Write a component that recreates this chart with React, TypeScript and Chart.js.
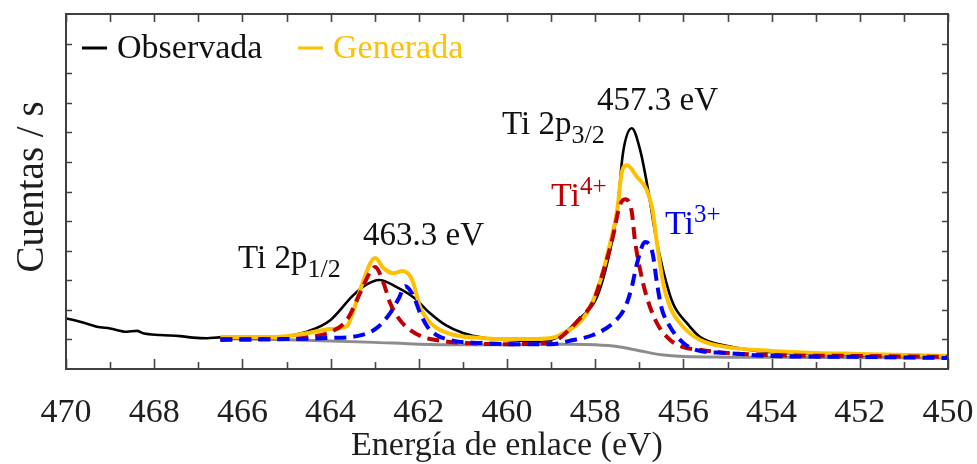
import React, { useEffect, useRef } from "react";
import { Chart, registerables } from "chart.js";

Chart.register(...registerables);

// ---- Data (binding energy in eV, counts in arbitrary units) ----
const obsEnergy = [469.98, 469.68, 469.3, 469.0, 468.62, 468.39, 468.25, 467.87, 467.41, 467.12, 466.8, 466.51, 466.0, 465.5, 465.0, 464.5, 464.0, 463.5, 463.2, 462.9, 462.5, 462.1, 461.75, 461.4, 461.0, 460.5, 460.0, 459.5, 459.25, 458.8, 458.34, 457.96, 457.66, 457.5, 457.37, 457.17, 456.98, 456.8, 456.64, 456.46, 456.24, 455.92, 455.62, 455.0, 454.0, 453.0, 452.0, 451.0, 450.0];
const obsCounts = [1.71, 1.6, 1.43, 1.37, 1.26, 1.29, 1.21, 1.15, 1.11, 1.06, 1.04, 1.07, 1.05, 1.05, 1.11, 1.28, 1.66, 2.47, 2.84, 3.01, 2.77, 2.4, 1.89, 1.49, 1.22, 1.05, 0.98, 0.95, 0.93, 1.12, 1.72, 2.43, 4.02, 5.37, 7.3, 8.14, 7.4, 6.05, 4.59, 3.34, 2.23, 1.55, 1.08, 0.78, 0.57, 0.51, 0.47, 0.45, 0.44];

const genEnergy = [466.5, 466.0, 465.5, 465.0, 464.5, 464.0, 463.63, 463.5, 463.33, 463.1, 462.99, 462.8, 462.58, 462.36, 462.15, 461.97, 461.8, 461.6, 461.2, 460.6, 460.0, 459.5, 459.0, 458.8, 458.19, 457.9, 457.66, 457.5, 457.4, 457.28, 457.05, 456.83, 456.7, 456.6, 456.46, 456.3, 456.0, 455.62, 455.0, 454.0, 453.0, 452.0, 450.0];
const genCounts = [1.08, 1.08, 1.08, 1.11, 1.22, 1.35, 1.45, 1.9, 2.67, 3.58, 3.75, 3.41, 3.24, 3.31, 3.01, 2.09, 1.66, 1.39, 1.15, 1.05, 1.01, 1.01, 1.05, 1.15, 1.89, 2.91, 4.26, 5.37, 6.62, 6.89, 6.49, 6.05, 5.37, 4.26, 2.91, 2.09, 1.42, 0.98, 0.74, 0.61, 0.54, 0.51, 0.44];

const ti4Energy = [466.5, 465.0, 464.5, 464.0, 463.63, 463.33, 463.1, 462.99, 462.8, 462.65, 462.43, 462.2, 461.9, 461.6, 461.0, 460.0, 459.0, 458.8, 458.34, 458.05, 457.82, 457.6, 457.44, 457.32, 457.17, 457.1, 456.98, 456.83, 456.6, 456.3, 456.0, 455.6, 455.0, 454.0, 452.0, 450.0];
const ti4Counts = [1.01, 1.01, 1.08, 1.25, 1.66, 2.57, 3.28, 3.45, 2.91, 2.23, 1.66, 1.32, 1.08, 0.98, 0.88, 0.84, 0.88, 1.05, 1.72, 2.26, 3.28, 4.46, 5.54, 5.74, 5.3, 4.36, 3.34, 2.43, 1.55, 0.98, 0.74, 0.64, 0.54, 0.47, 0.44, 0.41];

const ti3Energy = [466.5, 465.0, 464.0, 463.4, 462.95, 462.65, 462.45, 462.31, 462.13, 461.97, 461.8, 461.6, 461.2, 460.6, 460.0, 459.0, 458.5, 458.05, 457.6, 457.32, 457.17, 457.05, 456.87, 456.7, 456.6, 456.5, 456.3, 456.0, 455.7, 455.0, 454.0, 452.0, 450.0];
const ti3Counts = [0.98, 1.01, 1.05, 1.11, 1.39, 1.89, 2.4, 2.8, 2.5, 1.89, 1.42, 1.15, 0.95, 0.88, 0.84, 0.84, 0.98, 1.15, 1.55, 2.09, 2.77, 3.58, 4.29, 3.92, 2.91, 2.09, 1.42, 0.88, 0.64, 0.54, 0.44, 0.41, 0.37];

const bgEnergy = [466.5, 465.0, 464.0, 463.0, 462.0, 461.0, 460.0, 459.0, 458.5, 458.0, 457.5, 457.0, 456.5, 456.0, 455.0, 453.0, 450.0];
const bgCounts = [1.02, 0.99, 0.95, 0.9, 0.84, 0.82, 0.82, 0.84, 0.84, 0.82, 0.76, 0.62, 0.48, 0.42, 0.4, 0.39, 0.37];

const xTickValues = [470, 468, 466, 464, 462, 460, 458, 456, 454, 452, 450];
const xMinorTicks = [469, 467, 465, 463, 461, 459, 457, 455, 453, 451];
const yTickValues = [1, 2, 3, 4, 5, 6, 7, 8, 9, 10, 11];

const SERIF = '"Liberation Serif", serif';

const toPts = (xs: number[], ys: number[]) => xs.map((x, i) => ({ x, y: ys[i] }));

type Part = { t: string; size: number; dy: number };
function drawRich(ctx: CanvasRenderingContext2D, parts: Part[], x: number, y: number, color: string) {
  ctx.fillStyle = color;
  ctx.textBaseline = "alphabetic";
  ctx.textAlign = "left";
  let cx = x;
  for (const p of parts) {
    ctx.font = `${p.size}px ${SERIF}`;
    ctx.fillText(p.t, cx, y + p.dy);
    cx += ctx.measureText(p.t).width;
  }
}
function drawCentered(ctx: CanvasRenderingContext2D, t: string, size: number, cx: number, y: number, color: string) {
  ctx.font = `${size}px ${SERIF}`;
  const w = ctx.measureText(t).width;
  drawRich(ctx, [{ t, size, dy: 0 }], cx - w / 2, y, color);
}

const decorPlugin = {
  id: "decor",
  afterDraw(chart: any) {
    const ctx: CanvasRenderingContext2D = chart.ctx;
    const xs = chart.scales.x;
    const ys = chart.scales.y;
    const a = chart.chartArea;
    ctx.save();
    // ticks
    ctx.strokeStyle = "#444";
    ctx.lineWidth = 1.6;
    ctx.beginPath();
    for (const v of xTickValues) {
      const px = Math.round(xs.getPixelForValue(v)) + 0.5;
      ctx.moveTo(px, a.bottom);
      ctx.lineTo(px, a.bottom - 10);
      ctx.moveTo(px, a.top);
      ctx.lineTo(px, a.top + 8);
    }
    for (const v of xMinorTicks) {
      const px = Math.round(xs.getPixelForValue(v)) + 0.5;
      ctx.moveTo(px, a.bottom);
      ctx.lineTo(px, a.bottom - 7);
      ctx.moveTo(px, a.top);
      ctx.lineTo(px, a.top + 8);
    }
    for (const v of yTickValues) {
      const py = Math.round(ys.getPixelForValue(v)) + 0.5;
      ctx.moveTo(a.left, py);
      ctx.lineTo(a.left + 6, py);
      ctx.moveTo(a.right, py);
      ctx.lineTo(a.right - 6, py);
    }
    ctx.stroke();
    // frame
    ctx.lineWidth = 2;
    ctx.strokeStyle = "#404040";
    ctx.strokeRect(a.left, a.top, a.right - a.left, a.bottom - a.top);

    // x tick labels
    for (const v of xTickValues) {
      drawCentered(ctx, String(v), 34, xs.getPixelForValue(v), 422, "#1e1e1e");
    }
    // axis titles
    drawCentered(ctx, "Energía de enlace (eV)", 34, (a.left + a.right) / 2, 455, "#1e1e1e");
    ctx.save();
    ctx.translate(43, 187);
    ctx.rotate(-Math.PI / 2);
    drawCentered(ctx, "Cuentas / s", 39, 0, 0, "#1e1e1e");
    ctx.restore();

    // legend
    ctx.lineWidth = 3;
    ctx.strokeStyle = "#000";
    ctx.beginPath();
    ctx.moveTo(82, 48);
    ctx.lineTo(107, 48);
    ctx.stroke();
    ctx.strokeStyle = "#FFC000";
    ctx.beginPath();
    ctx.moveTo(298, 48);
    ctx.lineTo(323, 48);
    ctx.stroke();
    drawRich(ctx, [{ t: "Observada", size: 34, dy: 0 }], 117, 58, "#111");
    drawRich(ctx, [{ t: "Generada", size: 34, dy: 0 }], 333, 58, "#FFC000");

    // annotations
    drawRich(ctx, [{ t: "457.3 eV", size: 33, dy: 0 }], 597, 110, "#111");
    drawRich(ctx, [{ t: "Ti 2p", size: 33, dy: 0 }, { t: "3/2", size: 26, dy: 9 }], 502, 134, "#111");
    drawRich(ctx, [{ t: "463.3 eV", size: 33, dy: 0 }], 363, 245, "#111");
    drawRich(ctx, [{ t: "Ti 2p", size: 33, dy: 0 }, { t: "1/2", size: 26, dy: 9 }], 238, 268, "#111");
    drawRich(ctx, [{ t: "Ti", size: 34, dy: 0 }, { t: "4+", size: 25, dy: -12 }], 551, 206, "#C00000");
    drawRich(ctx, [{ t: "Ti", size: 34, dy: 0 }, { t: "3+", size: 25, dy: -12 }], 665, 234, "#0000FF");
    ctx.restore();
  },
};

export default function App() {
  const ref = useRef<HTMLCanvasElement | null>(null);
  useEffect(() => {
    if (!ref.current) return;
    let chart: Chart | null = null;
    let cancelled = false;
    const build = () => {
      if (cancelled || !ref.current) return;
      const common = { pointRadius: 0, fill: false, cubicInterpolationMode: "monotone" as const };
      chart = new Chart(ref.current, {
        type: "line",
        data: {
          datasets: [
            { ...common, label: "Fondo", data: toPts(bgEnergy, bgCounts), borderColor: "#8C8C8C", borderWidth: 3, order: 5 },
            { ...common, label: "Observada", data: toPts(obsEnergy, obsCounts), borderColor: "#000000", borderWidth: 2.6, order: 4 },
            { ...common, label: "Generada", data: toPts(genEnergy, genCounts), borderColor: "#FFC000", borderWidth: 4, order: 3 },
            { ...common, label: "Ti4+", data: toPts(ti4Energy, ti4Counts), borderColor: "#C00000", borderWidth: 4, borderDash: [12, 7], order: 2 },
            { ...common, label: "Ti3+", data: toPts(ti3Energy, ti3Counts), borderColor: "#0000FF", borderWidth: 4, borderDash: [12, 7], order: 1 },
          ],
        },
        options: {
          responsive: false,
          animation: false,
          layout: { padding: { left: 66, right: 29, top: 14, bottom: 95 } },
          plugins: { legend: { display: false }, tooltip: { enabled: false } },
          scales: {
            x: { type: "linear", reverse: true, min: 450, max: 470, display: false },
            y: { type: "linear", min: 0, max: 12, display: false },
          },
        },
        plugins: [decorPlugin],
      });
    };
    const fonts: any = (document as any).fonts;
    if (fonts && fonts.load) {
      Promise.all([
        fonts.load(`34px "Liberation Serif"`, "0123456789"),
        fonts.load(`34px "Liberation Serif"`, "Energía"),
      ])
        .catch(() => null)
        .then(build);
    } else {
      build();
    }
    return () => {
      cancelled = true;
      if (chart) chart.destroy();
    };
  }, []);
  return (
    <div style={{ position: "fixed", left: 0, top: 0, width: 977, height: 464, background: "#fff" }}>
      <canvas ref={ref} width={977} height={464} />
    </div>
  );
}
